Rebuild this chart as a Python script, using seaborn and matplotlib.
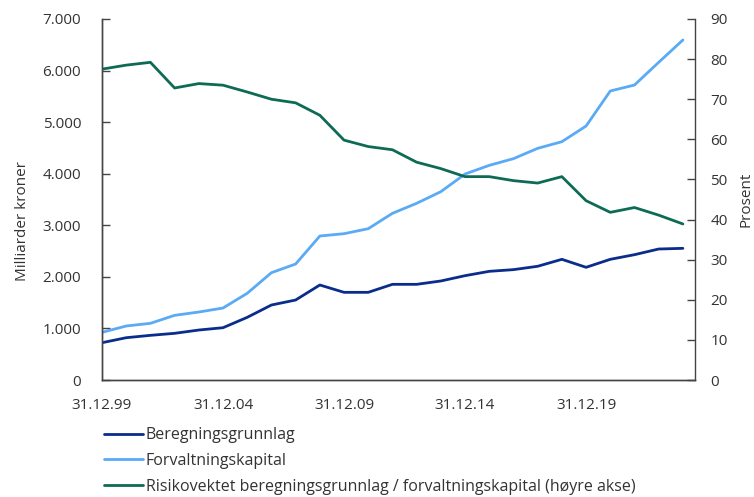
import numpy as np
import pandas as pd
import seaborn as sns
import matplotlib.pyplot as plt
from matplotlib.ticker import FuncFormatter, FixedLocator

years = list(range(1999, 2024))
tick_labels = ["31.12.99", "31.12.04", "31.12.09", "31.12.14", "31.12.19"]

# Milliarder kroner
beregningsgrunnlag = [723, 820, 866, 905, 969, 1014, 1215, 1454, 1551, 1842,
                      1700, 1700, 1855, 1855, 1920, 2023, 2107, 2140, 2205, 2340,
                      2185, 2340, 2430, 2540, 2553]
forvaltningskapital = [924, 1047, 1099, 1254, 1318, 1396, 1681, 2081, 2249, 2792,
                       2837, 2934, 3232, 3426, 3652, 3994, 4162, 4292, 4492, 4621,
                       4925, 5604, 5720, 6160, 6593]
# Prosent (right axis)
risikovektet_andel = [77.5, 78.5, 79.2, 72.8, 73.9, 73.5, 71.8, 70.0, 69.1, 66.0,
                      59.8, 58.2, 57.4, 54.3, 52.7, 50.7, 50.7, 49.7, 49.1, 50.7,
                      44.7, 41.8, 43.0, 41.1, 38.9]

labels = ["Beregningsgrunnlag", "Forvaltningskapital",
          "Risikovektet beregningsgrunnlag / forvaltningskapital (høyre akse)"]
colors = ["#0a2d8c", "#5aaaf5", "#0d6b55"]
text_color = "#333333"

df = pd.DataFrame({
    "idx": np.arange(len(years)),
    "beregning": beregningsgrunnlag,
    "forvaltning": forvaltningskapital,
    "andel": risikovektet_andel,
})

sns.set_style("white")
plt.rcParams["font.family"] = ["Open Sans", "DejaVu Sans"]
plt.rcParams["font.size"] = 11

fig = plt.figure(figsize=(7.54, 4.97), dpi=100)
ax = fig.add_axes([102 / 754, 1 - 380 / 497, (695 - 102) / 754, (380 - 19) / 497])
ax2 = ax.twinx()

lw = 2.0
sns.lineplot(data=df, x="idx", y="beregning", ax=ax, color=colors[0], linewidth=lw)
sns.lineplot(data=df, x="idx", y="forvaltning", ax=ax, color=colors[1], linewidth=lw)
sns.lineplot(data=df, x="idx", y="andel", ax=ax2, color=colors[2], linewidth=lw)

ax.set_xlim(0, 24.5)
ax.set_ylim(0, 7000)
ax2.set_ylim(0, 90)
ax.set_yticks(np.arange(0, 7001, 1000))
ax2.set_yticks(np.arange(0, 91, 10))
ax.yaxis.set_major_formatter(FuncFormatter(lambda v, p: f"{int(v):,}".replace(",", ".")))

ax.xaxis.set_major_locator(FixedLocator([0, 5, 10, 15, 20]))
ax.set_xticklabels(tick_labels)
ax.xaxis.set_minor_locator(FixedLocator(list(range(len(years)))))

ax.set_xlabel("")
ax.set_ylabel("Milliarder kroner", color=text_color, fontsize=11)
ax.yaxis.set_label_coords(-0.122, 0.44)
ax2.set_ylabel("Prosent", color=text_color, fontsize=11, labelpad=8)

for a in (ax, ax2):
    for s in a.spines.values():
        s.set_color("#444444")
        s.set_linewidth(1.0)
    a.spines["top"].set_visible(False)
    a.tick_params(axis="both", which="both", direction="in", length=6, width=1,
                  color="#444444", labelcolor=text_color, labelsize=11)
    a.grid(False)
ax.tick_params(axis="x", which="major", pad=13)
ax.tick_params(axis="y", pad=15)
ax2.tick_params(axis="y", pad=11)
ax.spines["right"].set_visible(False)

handles = [plt.Line2D([], [], color=c, linewidth=lw) for c in colors]
fig.legend(handles, labels, loc="upper left", bbox_to_anchor=(98 / 754, 1 - 421 / 497),
           frameon=False, handlelength=2.4, handletextpad=0.2, labelspacing=0.6,
           fontsize=11.5, labelcolor=text_color, borderaxespad=0)

fig.savefig("out.png", dpi=100)
